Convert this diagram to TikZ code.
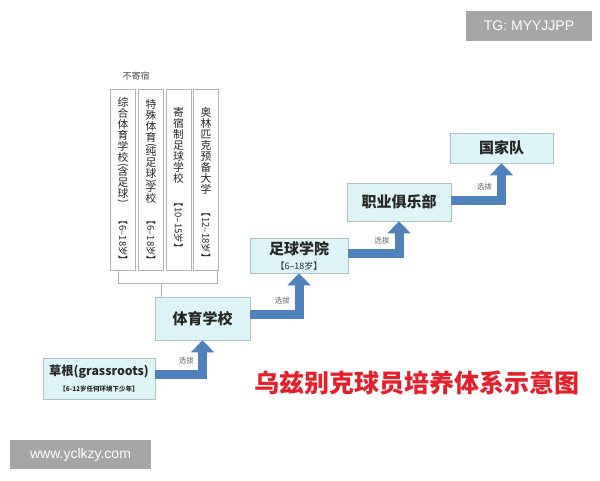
\documentclass[tikz,border=0pt]{standalone}
\usepackage{graphicx}
\usepackage{fontspec}
\newfontfamily\cjk{Noto Sans CJK SC}
\newfontfamily\wmfont{Liberation Sans}
\usetikzlibrary{arrows.meta,positioning}

\definecolor{boxfill}{HTML}{DDF5F7}
\definecolor{boxline}{HTML}{A9C3C9}
\definecolor{arrowblue}{HTML}{4F81BD}
\definecolor{titlered}{HTML}{E5202A}
\definecolor{wmgray}{HTML}{A6A6A6}

\newcommand\vparen[1]{\rotatebox[origin=c]{-90}{#1}}
\newcommand\agebar[1]{\rotatebox{-90}{\fontsize{9.5}{10}\selectfont【#1岁】}}

\tikzset{
  stage/.style={draw=boxline, fill=boxfill, line width=0.8pt, inner sep=0pt,
    font=\cjk\bfseries\fontsize{15}{17}\selectfont, align=center, text=black!85},
  colbox/.style={draw=black!30, line width=0.8pt, fill=white, inner sep=0pt,
    minimum width=25pt, minimum height=181pt},
  coltext/.style={font=\cjk\fontsize{10.8}{11}\selectfont, align=center,
    inner sep=0pt, text=black!85},
  promote/.style={draw=arrowblue, line width=9pt, line join=miter,
    -{Triangle[width=23pt,length=12pt]}},
  pick/.style={font=\cjk\fontsize{7.5}{8}\selectfont, text=black!60,
    inner sep=1pt, above=4pt, pos=0.33},
  bracket/.style={draw=black!30, line width=0.8pt},
  watermark/.style={fill=wmgray, text=white, inner sep=0pt,
    font=\wmfont\fontsize{14}{16}\selectfont},
}

\begin{document}
\begin{tikzpicture}[x=1pt, y=-1pt]
	\useasboundingbox (0,0) rectangle (600,480);

	% stages
	\node[stage, minimum width=112pt, minimum height=41pt] (grass) at (99,378.5)
	  {{\fontsize{12.3}{14}\selectfont 草根(grassroots)}\\[-1pt]{\fontsize{6.5}{7}\selectfont 【6-12岁任何环境下少年】}};
	\node[stage, minimum width=95pt, minimum height=43pt] (sport) at (202.5,318.5) {体育学校};
	\node[stage, minimum width=98pt, minimum height=35pt] (academy) at (299,255.5)
	  {足球学院\\[-2pt]{\mdseries\fontsize{9}{10}\selectfont 【6–18岁】}};
	\node[stage, minimum width=104pt, minimum height=38pt] (club) at (399,202) {职业俱乐部};
	\node[stage, minimum width=103pt, minimum height=30pt] (nation) at (501.5,148) {国家队};

	% school types
	\node[font=\cjk\fontsize{9}{10}\selectfont, text=black!70] (nob) at (136,76) {不寄宿};
	\node[colbox] (c1) at (123,179.5) {};
	\node[colbox] (c2) at (151,179.5) {};
	\node[colbox] (c3) at (178.5,179.5) {};
	\node[colbox] (c4) at (206,179.5) {};
	\node[coltext, below=9pt of c1.north] (t1)
	  {综\\合\\体\\育\\学\\校\\[-4pt]\vparen{(}\\[-4pt]含\\足\\球\\[-4pt]\vparen{)}\\[0pt]\agebar{6–18}};
	\node[coltext, below=11pt of c2.north] (t2)
	  {特\\殊\\体\\育\\[-4pt]\vparen{(}\\[-4pt]纯\\足\\球\\[-4pt]\vparen{)}\\[-4pt]学\\校\\[2pt]\agebar{6–18}};
	\node[coltext, below=19pt of c3.north] (t3)
	  {寄\\宿\\制\\足\\球\\学\\校\\[4pt]\agebar{10–15}};
	\node[coltext, below=19pt of c4.north] (t4)
	  {奥\\林\\匹\\克\\预\\备\\大\\学\\[3pt]\agebar{12–18}};

	\coordinate (bl) at (118,270);
	\coordinate (br) at (217,270);
	\coordinate (bm) at (161,283);
	\draw[bracket] (bl) |- (br |- bm) -- (br);
	\draw[bracket] (bm) -- (bm |- sport.north);

	% promotion arrows
	\draw[promote] ([yshift=4.5pt]grass.east) -| node[pick] {选拔} (sport.south);
	\draw[promote] ([yshift=4.5pt]sport.east) -| node[pick] {选拔} (academy.south);
	\draw[promote] ([yshift=2pt]academy.east) -| node[pick] {选拔} (club.south);
	\draw[promote] ([yshift=2pt]club.east) -| node[pick] {选拔} (nation.south);

	\node[font=\cjk\bfseries\fontsize{25}{27}\selectfont, text=titlered] (title) at (417,383)
	  {乌兹别克球员培养体系示意图};

	\node[watermark, minimum width=126pt, minimum height=30pt] (tg) at (529,26) {TG: MYYJJPP};
	\node[watermark, minimum width=141pt, minimum height=29pt] (site) at (80.5,454.5) {www.yclkzy.com};
\end{tikzpicture}
\end{document}
